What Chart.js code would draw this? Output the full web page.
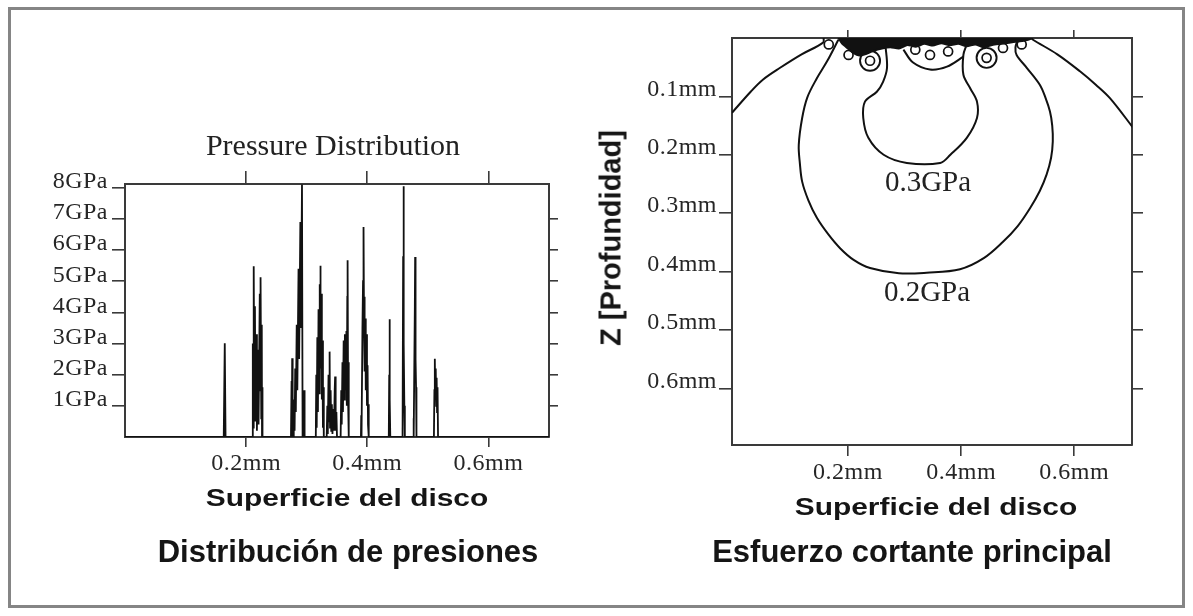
<!DOCTYPE html>
<html>
<head>
<meta charset="utf-8">
<script src="https://cdn.jsdelivr.net/npm/chart.js@4.4.1/dist/chart.umd.min.js"></script>
<style>
html,body{margin:0;padding:0;background:#fff;}
body{width:1193px;height:616px;position:relative;overflow:hidden;}
#frame{position:absolute;left:8px;top:7px;width:1171px;height:595px;border:3px solid #858585;}
.wrap{position:absolute;top:0;height:616px;}
#wl{left:0;width:590px;}
#wr{left:590px;width:603px;}
.t{position:absolute;white-space:nowrap;line-height:1;transform:translate(-50%,-50%);}
.sans{font-family:"Liberation Sans",Arial,sans-serif;font-weight:bold;color:#151515;}
.serif{font-family:"Liberation Serif","Times New Roman",serif;color:#222;}
</style>
</head>
<body>
<div id="frame"></div>
<div class="wrap" id="wl"><canvas id="left" width="590" height="616"></canvas></div>
<div class="wrap" id="wr"><canvas id="right" width="603" height="616"></canvas></div>

<div class="t serif" style="left:333px;top:145px;font-size:30px;">Pressure Distribution</div>
<div class="t sans" style="left:347px;top:498px;font-size:23px;transform:translate(-50%,-50%) scaleX(1.3);">Superficie del disco</div>
<div class="t sans" style="left:348px;top:551px;font-size:31px;">Distribución de presiones</div>
<div class="t sans" style="left:611px;top:238px;font-size:29px;transform:translate(-50%,-50%) rotate(-90deg);">Z [Profundidad]</div>
<div class="t sans" style="left:936px;top:507px;font-size:23px;transform:translate(-50%,-50%) scaleX(1.3);">Superficie del disco</div>
<div class="t sans" style="left:912px;top:551px;font-size:31px;">Esfuerzo cortante principal</div>
<div class="t serif" style="left:928px;top:181px;font-size:29px;">0.3GPa</div>
<div class="t serif" style="left:927px;top:291px;font-size:29px;">0.2GPa</div>

<script>
// ---------- Left panel: pressure distribution ----------
const surfaceTicks = [0.2, 0.4, 0.6];
const surfaceTickLabels = ['0.2mm', '0.4mm', '0.6mm'];
const pressureTicks = [1, 2, 3, 4, 5, 6, 7, 8];
const pressureTickLabels = ['1GPa', '2GPa', '3GPa', '4GPa', '5GPa', '6GPa', '7GPa', '8GPa'];

const pressureX = [
  0, 0.1630, 0.1647, 0.1660,
  0.2100, 0.2110, 0.2118, 0.2125, 0.2135, 0.2145, 0.2155, 0.2165, 0.2178, 0.2190, 0.2205, 0.2225, 0.2232, 0.2238, 0.2250, 0.2258, 0.2262, 0.2268, 0.2272,
  0.2740, 0.2750, 0.2755, 0.2760, 0.2768, 0.2775, 0.2782, 0.2790, 0.2800, 0.2810, 0.2820, 0.2835, 0.2845, 0.2865, 0.2875, 0.2895, 0.2905, 0.2922, 0.2932, 0.2955, 0.2960, 0.2965,
  0.3150, 0.3158, 0.3165, 0.3175, 0.3185, 0.3195, 0.3205, 0.3215, 0.3220, 0.3224, 0.3232, 0.3240, 0.3250, 0.3258, 0.3268, 0.3275, 0.3282,
  0.3330, 0.3340, 0.3348, 0.3360, 0.3370, 0.3378, 0.3385, 0.3395, 0.3405, 0.3415, 0.3425, 0.3440, 0.3450, 0.3462, 0.3469, 0.3478, 0.3490, 0.3500,
  0.3560, 0.3570, 0.3578, 0.3590, 0.3598, 0.3610, 0.3620, 0.3630, 0.3640, 0.3655, 0.3662, 0.3670, 0.3675, 0.3683, 0.3690, 0.3698,
  0.3895, 0.3900, 0.3905, 0.3920, 0.3930, 0.3938, 0.3946, 0.3952, 0.3960, 0.3968, 0.3975, 0.3985, 0.3995, 0.4005, 0.4012, 0.4020, 0.4028,
  0.4355, 0.4362, 0.4367, 0.4373, 0.4380,
  0.4575, 0.4580, 0.4585, 0.4592, 0.4597, 0.4605, 0.4612, 0.4620,
  0.4755, 0.4762, 0.4770, 0.4785, 0.4790, 0.4797, 0.4805, 0.4812,
  0.5100, 0.5108, 0.5115, 0.5122, 0.5130, 0.5138, 0.5145, 0.5152, 0.5160, 0.5168,
  0.7000
];
const pressureGPa = [
  0, 0, 3.01, 0,
  0, 3.0, 0.3, 5.48, 1.2, 4.2, 0.5, 3.3, 0.2, 2.8, 0.4, 4.6, 1.5, 5.13, 0.6, 3.6, 0, 1.6, 0,
  0, 1.8, 0.2, 2.53, 0, 1.2, 0, 1.1, 0.2, 2.2, 0.8, 3.6, 1.5, 5.4, 2.5, 6.9, 3.5, 8.1, 0, 0, 1.5, 0,
  0, 2.0, 0.3, 3.2, 0.8, 4.1, 1.4, 4.9, 2.5, 5.50, 2.2, 4.6, 1.2, 3.1, 0.3, 1.6, 0,
  0, 1.0, 0.1, 2.0, 0.5, 2.74, 0.3, 1.5, 0.2, 1.05, 0.1, 0.9, 0.2, 1.5, 1.94, 0.2, 0.8, 0,
  0, 1.5, 0.4, 2.4, 0.8, 3.1, 1.2, 3.3, 1.5, 3.4, 1.0, 4.5, 5.67, 1.2, 2.4, 0,
  0, 0.7, 0, 3.5, 5.0, 6.74, 3.6, 4.5, 2.1, 3.8, 1.5, 3.3, 1.0, 2.3, 0.4, 1.05, 0,
  0, 2.0, 3.78, 1.2, 0,
  0, 0.3, 0, 5.8, 8.05, 3.0, 1.0, 0,
  0, 0.6, 0, 4.2, 5.78, 2.5, 1.6, 0,
  0, 1.5, 2.51, 1.3, 2.2, 1.0, 1.9, 0.8, 1.6, 0,
  0
];

// ---------- Right panel: principal shear stress contours ----------
const depthTicks = [0.1, 0.2, 0.3, 0.4, 0.5, 0.6];
const depthTickLabels = ['0.1mm', '0.2mm', '0.3mm', '0.4mm', '0.5mm', '0.6mm'];

const contour01LeftX = [0.157, 0.156, 0.118, 0.080, 0.050, 0.028, -0.005];
const contour01LeftY = [0.000, 0.008, 0.028, 0.051, 0.071, 0.092, 0.128];
const contour01RightX = [0.524, 0.527, 0.570, 0.610, 0.638, 0.663, 0.705];
const contour01RightY = [0.000, 0.003, 0.028, 0.057, 0.080, 0.103, 0.155];

const contour02X = [0.183, 0.163, 0.145, 0.128, 0.119, 0.113, 0.115, 0.119, 0.130, 0.145, 0.165, 0.186, 0.210, 0.239, 0.290, 0.339, 0.398, 0.440, 0.474, 0.500, 0.522, 0.539, 0.551, 0.559, 0.562, 0.561, 0.557, 0.549, 0.539, 0.516, 0.498, 0.496, 0.500];
const contour02Y = [0.003, 0.040, 0.069, 0.102, 0.137, 0.183, 0.215, 0.246, 0.278, 0.308, 0.336, 0.360, 0.380, 0.394, 0.403, 0.402, 0.396, 0.377, 0.349, 0.322, 0.291, 0.262, 0.234, 0.205, 0.177, 0.150, 0.126, 0.102, 0.080, 0.051, 0.029, 0.016, 0.003];

const contour03X = [0.266, 0.269, 0.262, 0.251, 0.230, 0.227, 0.236, 0.263, 0.304, 0.363, 0.381, 0.410, 0.428, 0.428, 0.416, 0.404, 0.404, 0.410];
const contour03Y = [0.011, 0.051, 0.075, 0.092, 0.109, 0.137, 0.171, 0.200, 0.214, 0.214, 0.200, 0.171, 0.137, 0.109, 0.086, 0.063, 0.029, 0.011];

const domeX = [0.298, 0.315, 0.345, 0.375, 0.404];
const domeY = [0.020, 0.042, 0.054, 0.049, 0.032];

const bandX = [0.183, 0.190, 0.200, 0.210, 0.220, 0.230, 0.245, 0.260, 0.275, 0.290, 0.305, 0.320, 0.335, 0.350, 0.365, 0.380, 0.395, 0.410, 0.425, 0.440, 0.455, 0.470, 0.485, 0.500, 0.515, 0.527];
const bandY = [0.000, 0.010, 0.018, 0.026, 0.030, 0.028, 0.022, 0.018, 0.016, 0.018, 0.012, 0.015, 0.010, 0.013, 0.009, 0.012, 0.010, 0.014, 0.011, 0.016, 0.012, 0.010, 0.008, 0.006, 0.004, 0.000];

const bigRingX = [0.239, 0.445];
const bigRingY = [0.039, 0.034];
const smallRingX = [0.166, 0.239, 0.445, 0.507, 0.201, 0.345, 0.377, 0.319, 0.474];
const smallRingY = [0.011, 0.039, 0.034, 0.011, 0.029, 0.029, 0.023, 0.020, 0.017];

// ---------- helpers ----------
const pts = (xs, ys) => xs.map((x, i) => ({x: x, y: ys[i]}));
const INK = '#111111';
const AXIS = '#3a3a3a';
const tickFont = {family: '"Liberation Serif", "Times New Roman", serif', size: 24};

const spacing = {
  id: 'spacing',
  beforeDraw(chart) { chart.ctx.letterSpacing = '0.5px'; },
  afterDraw(chart) { chart.ctx.letterSpacing = '0px'; }
};

function fixed(size, horizontal) {
  return function (s) {
    if (horizontal) s.height = size; else s.width = size;
    s.paddingLeft = 0; s.paddingRight = 0; s.paddingTop = 0; s.paddingBottom = 0;
  };
}
function setTicks(values) {
  return function (s) { s.ticks = values.map(v => ({value: v})); };
}
function axis(opts) {
  return Object.assign({
    type: 'linear',
    grid: {drawOnChartArea: false, drawTicks: true, tickLength: opts.tl, color: AXIS, lineWidth: 1.6},
    border: {display: true, color: AXIS, width: 2},
    ticks: opts.labels ? {
      display: true, font: tickFont, color: '#262626', padding: opts.pad || 2,
      labelOffset: opts.lo || 0, maxRotation: 0, autoSkip: false,
      callback: (v, i) => opts.labels[i]
    } : {display: false},
    afterBuildTicks: setTicks(opts.values),
    afterFit: fixed(opts.size, opts.horizontal)
  }, opts.extra);
}

// ---------- Left chart ----------
new Chart(document.getElementById('left'), {
  type: 'scatter',
  data: {
    datasets: [{
      data: pts(pressureX, pressureGPa),
      showLine: true, borderColor: INK, borderWidth: 1.8, pointRadius: 0, tension: 0
    }]
  },
  options: {
    responsive: false, animation: false,
    layout: {padding: {left: 0, right: 0, top: 171, bottom: 139}},
    plugins: {legend: {display: false}, tooltip: {enabled: false}, title: {display: false}},
    scales: {
      x: axis({tl: 10, values: surfaceTicks, labels: surfaceTickLabels, size: 40, horizontal: true, pad: 0,
               extra: {position: 'bottom', min: 0, max: 0.70}}),
      xTop: axis({tl: 13, values: surfaceTicks, size: 13, horizontal: true,
               extra: {position: 'top', min: 0, max: 0.70}}),
      y: axis({tl: 13, values: pressureTicks, labels: pressureTickLabels, size: 125, horizontal: false, pad: 4, lo: -6,
               extra: {position: 'left', min: 0, max: 8.12}}),
      yRight: axis({tl: 9, values: pressureTicks.slice(0, 7), size: 41, horizontal: false,
               extra: {position: 'right', min: 0, max: 8.12}})
    }
  },
  plugins: [spacing]
});

// ---------- Right chart ----------
const lineDs = (xs, ys) => ({
  data: pts(xs, ys), showLine: true, borderColor: INK, borderWidth: 2,
  pointRadius: 0, tension: 0.35, fill: false
});

new Chart(document.getElementById('right'), {
  type: 'scatter',
  data: {
    datasets: [
      {data: pts(bandX, bandY), showLine: true, borderColor: INK, borderWidth: 2, backgroundColor: INK,
       pointRadius: 0, tension: 0.2, fill: 'origin'},
      lineDs(contour01LeftX, contour01LeftY),
      lineDs(contour01RightX, contour01RightY),
      lineDs(contour02X, contour02Y),
      lineDs(contour03X, contour03Y),
      lineDs(domeX, domeY),
      {data: pts(bigRingX, bigRingY), showLine: false, pointStyle: 'circle', pointRadius: 10,
       pointBorderColor: INK, pointBackgroundColor: 'rgba(0,0,0,0)', pointBorderWidth: 1.9},
      {data: pts(smallRingX, smallRingY), showLine: false, pointStyle: 'circle', pointRadius: 4.5,
       pointBorderColor: INK, pointBackgroundColor: 'rgba(0,0,0,0)', pointBorderWidth: 1.7}
    ]
  },
  options: {
    responsive: false, animation: false,
    layout: {padding: {left: 0, right: 0, top: 30, bottom: 131}},
    plugins: {legend: {display: false}, tooltip: {enabled: false}},
    scales: {
      x: axis({tl: 11, values: surfaceTicks, labels: surfaceTickLabels, size: 40, horizontal: true, pad: 0,
               extra: {position: 'bottom', min: -0.005, max: 0.702}}),
      xTop: axis({tl: 8, values: surfaceTicks, size: 8, horizontal: true,
               extra: {position: 'top', min: -0.005, max: 0.702}}),
      y: axis({tl: 13, values: depthTicks, labels: depthTickLabels, size: 142, horizontal: false, pad: 2, lo: -7,
               extra: {position: 'left', min: 0, max: 0.697, reverse: true}}),
      yRight: axis({tl: 11, values: depthTicks, size: 61, horizontal: false,
               extra: {position: 'right', min: 0, max: 0.697, reverse: true}})
    }
  },
  plugins: [spacing]
});
</script>
</body>
</html>
